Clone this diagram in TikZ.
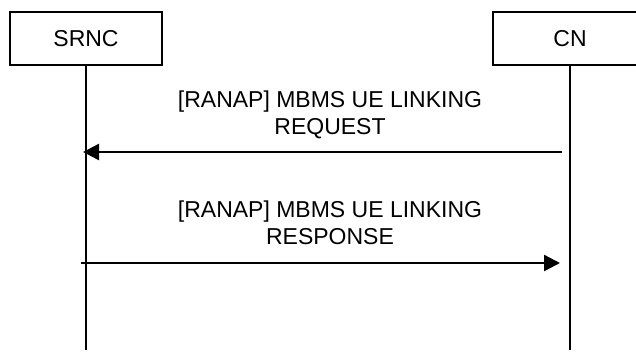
\documentclass[tikz,border=0pt]{standalone}
\usepackage{fontspec}
\setmainfont{Liberation Sans}
\usetikzlibrary{arrows.meta}
\begin{document}
\begin{tikzpicture}[x=1pt,y=-1pt,
  actor/.style={draw,line width=1.5pt,minimum height=53pt,inner sep=0pt,font=\fontsize{23}{27}\selectfont},
  life/.style={line width=1.5pt},
  msgarrow/.style={line width=2.4pt,-{Triangle[length=16pt,width=16pt]}},
  msgtext/.style={anchor=base,inner sep=0pt,font=\fontsize{23}{27}\selectfont}]
\clip (0,0) rectangle (636,354);
\fill[white] (0,0) rectangle (636,354);
\node[actor,minimum width=152pt] (srnc) at (86,38.5) {SRNC};
\node[actor,minimum width=154pt] (cn) at (570,38.5) {CN};
\coordinate (srncend) at (86,350);
\coordinate (cnend) at (570,350);
\draw[life] (srnc) -- (srncend);
\draw[life] (cn) -- (cnend);
\node[msgtext] (t1a) at (330,107) {[RANAP] MBMS UE LINKING};
\node[msgtext] (t1b) at (330,134) {REQUEST};
\coordinate (a1s) at (562,152);
\coordinate (a1e) at (83,152);
\draw[msgarrow] (a1s) -- (a1e);
\node[msgtext] (t2a) at (330,217) {[RANAP] MBMS UE LINKING};
\node[msgtext] (t2b) at (330,244) {RESPONSE};
\coordinate (a2s) at (81,263);
\coordinate (a2e) at (560,263);
\draw[msgarrow] (a2s) -- (a2e);
\end{tikzpicture}
\end{document}
